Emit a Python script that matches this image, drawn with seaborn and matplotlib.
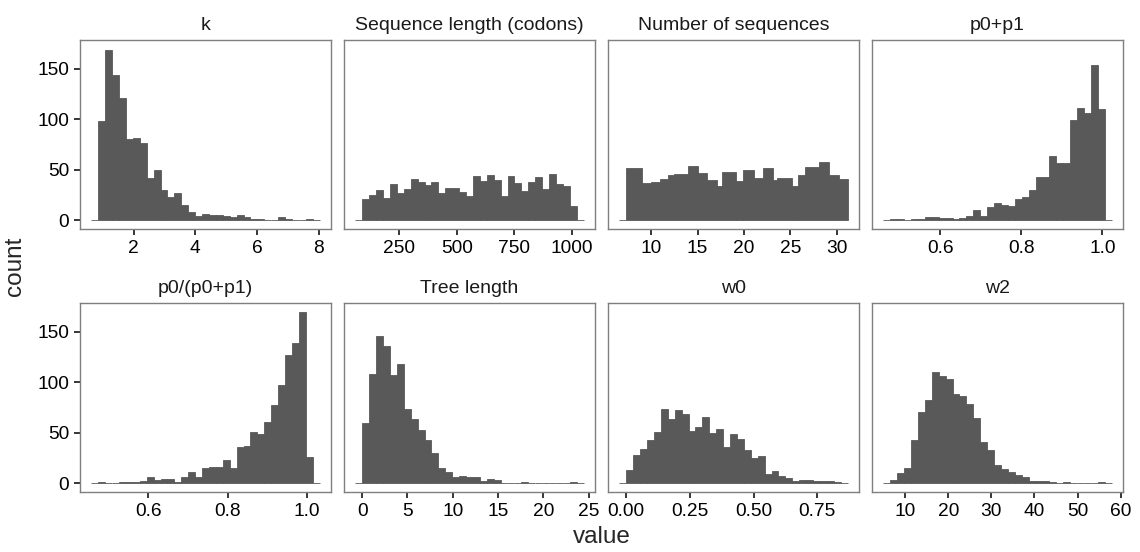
import numpy as np
import matplotlib
matplotlib.use("Agg")
import matplotlib.pyplot as plt
import seaborn as sns

# ---------------- data ----------------
panel_titles = ["k", "Sequence length (codons)", "Number of sequences", "p0+p1",
                "p0/(p0+p1)", "Tree length", "w0", "w2"]

# regular bins: left edge of first non-empty bin, bin width, counts (31 bins)
k_lo, k_w = 0.859, 0.224
k_counts = [98, 169, 144, 121, 81, 82, 77, 42, 50, 30, 23, 27, 15, 8, 4, 6,
            5, 5, 4, 3, 5, 3, 1, 1, 0, 0, 3, 1, 0, 0, 1]

seqlen_lo, seqlen_w = 90.0, 30.0
seqlen_counts = [21, 25, 30, 22, 36, 27, 31, 41, 38, 35, 38, 27, 32, 32, 28, 24,
                 44, 39, 45, 40, 24, 44, 37, 29, 38, 43, 31, 46, 36, 34, 14]

# number of sequences: irregular step edges
nseq_edges = [6.60, 7.35, 9.04, 10.0, 11.0, 11.78, 12.50, 14.03, 15.04, 16.06,
              17.10, 17.64, 19.14, 19.92, 21.07, 22.06, 23.07, 23.56, 25.14,
              25.81, 26.56, 28.06, 29.10, 30.17, 31.14]
nseq_counts = [0, 52, 37, 38, 41, 45, 46, 54, 47, 40, 34, 48, 39, 50, 42, 52,
               40, 42, 34, 45, 53, 58, 45, 41]

p01_lo, p01_w = 0.477, 0.01705
p01_counts = [1, 1, 0, 1, 1, 3, 3, 2, 2, 1, 2, 4, 10, 4, 13, 17, 15, 14, 21,
              23, 30, 43, 43, 64, 57, 57, 99, 111, 106, 154, 110]

p0r_lo, p0r_w = 0.4737, 0.01743
p0r_counts = [1, 0, 0, 1, 1, 1, 2, 6, 3, 4, 4, 1, 6, 11, 6, 15, 16, 16, 23,
              15, 36, 37, 51, 49, 61, 78, 97, 127, 139, 170, 26]

tree_lo, tree_w = 0.02, 0.763
tree_counts = [60, 108, 146, 136, 107, 118, 74, 64, 53, 43, 30, 15, 11, 6, 7,
               6, 6, 2, 4, 3, 0, 0, 0, 1, 0, 0, 0, 0, 0, 0, 1]

w0_lo, w0_w = 0.0014, 0.0271
w0_counts = [13, 28, 34, 43, 51, 74, 64, 73, 69, 52, 56, 66, 50, 54, 36, 49,
             44, 33, 25, 27, 9, 12, 7, 5, 2, 3, 3, 2, 2, 2, 1]

w2_lo, w2_w = 6.55, 1.605
w2_counts = [3, 10, 15, 43, 71, 83, 110, 106, 103, 88, 86, 79, 65, 41, 33, 18,
             14, 11, 8, 6, 2, 2, 2, 1, 0, 1, 0, 0, 0, 0, 1]

x_ticks = [[2, 4, 6, 8], [250, 500, 750, 1000], [10, 15, 20, 25, 30],
           [0.6, 0.8, 1.0], [0.6, 0.8, 1.0], [0, 5, 10, 15, 20, 25],
           [0.0, 0.25, 0.5, 0.75], [10, 20, 30, 40, 50, 60]]
x_tick_labels = [["2", "4", "6", "8"], ["250", "500", "750", "1000"],
                 ["10", "15", "20", "25", "30"], ["0.6", "0.8", "1.0"],
                 ["0.6", "0.8", "1.0"], ["0", "5", "10", "15", "20", "25"],
                 ["0.00", "0.25", "0.50", "0.75"],
                 ["10", "20", "30", "40", "50", "60"]]
y_ticks = [0, 50, 100, 150]


def regular(lo, w, counts, right_pad=True):
    """Edges/counts with one empty bin on each side (like the reference)."""
    n = len(counts)
    stop = n + 2 if right_pad else n + 1
    edges = lo + w * np.arange(-1, stop)
    c = [0] + list(counts) + ([0] if right_pad else [])
    return np.asarray(edges, float), np.asarray(c, float)


panels = [
    regular(k_lo, k_w, k_counts),
    regular(seqlen_lo, seqlen_w, seqlen_counts),
    (np.asarray(nseq_edges, float), np.asarray(nseq_counts, float)),
    regular(p01_lo, p01_w, p01_counts),
    regular(p0r_lo, p0r_w, p0r_counts),
    regular(tree_lo, tree_w, tree_counts),
    regular(w0_lo, w0_w, w0_counts),
    regular(w2_lo, w2_w, w2_counts),
]

# ---------------- style ----------------
sns.set_theme(style="ticks")
plt.rcParams['font.family'] = ['Liberation Sans', 'DejaVu Sans']

BAR = "#595959"
BORDER = "#7f7f7f"

fig, axes = plt.subplots(2, 4, figsize=(11.4, 5.52), dpi=100, sharey=True)
fig.subplots_adjust(left=80 / 1140, right=1123 / 1140, top=1 - 40 / 552,
                    bottom=1 - 492 / 552, wspace=13 / 251, hspace=74 / 189)

ymax = max(c.max() for _, c in panels)

for i, ax in enumerate(axes.flat):
    edges, counts = panels[i]
    centers = (edges[:-1] + edges[1:]) / 2
    sns.histplot(x=list(centers), weights=list(counts), bins=list(edges),
                 ax=ax, element="bars", color=BAR, edgecolor=BAR,
                 linewidth=0.6, alpha=1)
    span = edges[-1] - edges[0]
    ax.set_xlim(edges[0] - 0.05 * span, edges[-1] + 0.05 * span)
    ax.set_ylim(-0.05 * ymax, 1.05 * ymax)
    ax.set_xticks(x_ticks[i])
    ax.set_xticklabels(x_tick_labels[i])
    ax.set_yticks(y_ticks)
    ax.set_xlabel("")
    ax.set_ylabel("")
    ax.set_title(panel_titles[i], fontsize=14, pad=7, color="#1a1a1a")
    for s in ax.spines.values():
        s.set_visible(True)
        s.set_color(BORDER)
        s.set_linewidth(1.0)
    ax.tick_params(axis="both", length=4.2, width=1.1, color="black",
                   labelsize=13.8, labelcolor="black")
    ax.tick_params(axis="x", pad=4.0)
    ax.tick_params(axis="y", pad=3.5)
    if i % 4 != 0:
        ax.tick_params(axis="y", left=False, labelleft=False)

fig.text(601.5 / 1140, 1 - 537 / 552, "value", ha="center", va="center",
         fontsize=17.5)
fig.text(15 / 1140, 1 - 266 / 552, "count", ha="center", va="center",
         rotation=90, fontsize=17.5)

fig.savefig("out.png", dpi=100)
